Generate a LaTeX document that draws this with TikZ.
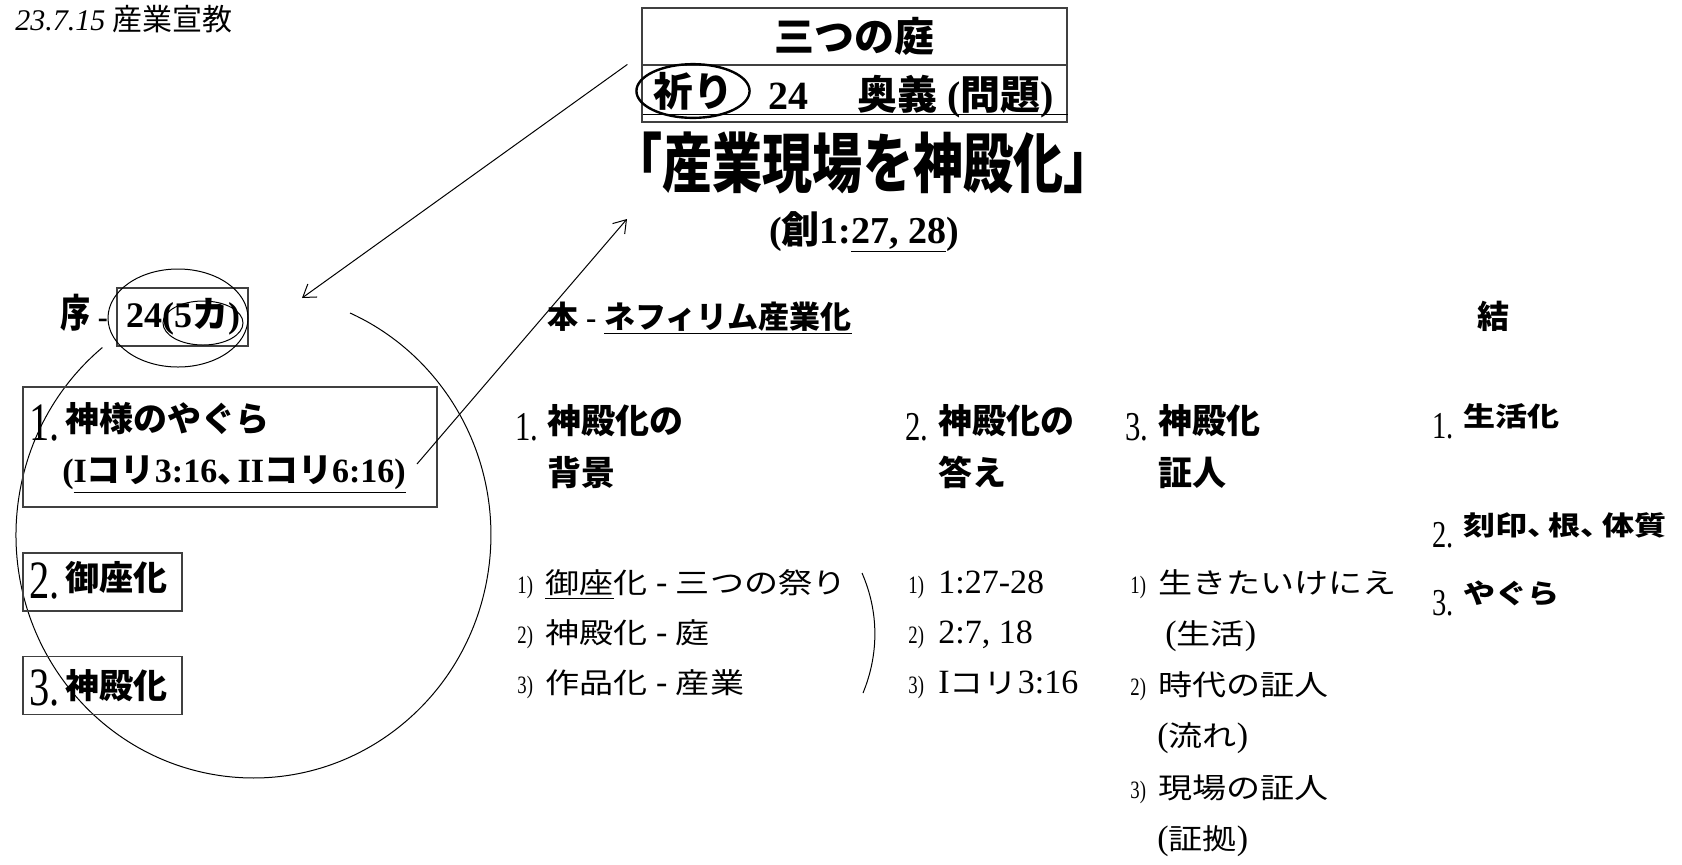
\documentclass[tikz,border=0pt]{standalone}
\usepackage{fontspec}
\setmainfont{Liberation Serif}
\newfontfamily\jp{Noto Sans CJK JP}
\newfontfamily\jpw{Noto Sans CJK JP}[Scale=0.835,FakeStretch=1.2]
\newfontfamily\jpc{Noto Sans CJK JP}[Scale=1.3,FakeStretch=0.77]
\newfontfamily\numfont{Liberation Serif}[FakeStretch=0.75]
\newcommand\en[1]{{\rmfamily#1}}
\newcommand\tou{、\hspace{-0.4em}}
\usetikzlibrary{arrows.meta}
\usetikzlibrary{shapes.geometric}

\begin{document}
\begin{tikzpicture}[x=0.5pt,y=-0.5pt,
  every node/.style={inner sep=0pt},
  box/.style={draw=black!75,line width=0.6pt},
  num/.style={anchor=base west,font=\numfont\fontsize{#1}{#1}\selectfont},
  head/.style={anchor=base west,font=\jp\bfseries\fontsize{17pt}{20pt}\selectfont},
  rhead/.style={anchor=base west,font=\jpw\bfseries\fontsize{16pt}{18pt}\selectfont},
  item/.style={anchor=base west,font=\jpw\fontsize{17pt}{20pt}\selectfont},
  link/.style={-{Straight Barb[length=6pt,width=8pt]},line width=0.5pt}]

  \path [fill=white,use as bounding box] (0,0) rectangle (1682,864);

  % date
  \node [anchor=base west,font=\jp\fontsize{15pt}{17pt}\selectfont] (date) at (15,30) {\en{\itshape 23.7.15} 産業宣教};

  % title block
  \node [box,minimum width=212.5pt,minimum height=28.5pt,font=\jp\bfseries\fontsize{20pt}{22pt}\selectfont] (niwa) at (854.5,36.5) {三つの庭};
  \node [box,minimum width=212.5pt,minimum height=28.5pt] (okugi) at (854.5,93.5) {};
  \node [draw,ellipse,line width=1.2pt,minimum width=53pt,minimum height=24pt,font=\jp\bfseries\fontsize{20pt}{22pt}\selectfont] (inori) at (693,91) {祈り};
  \node [anchor=base,font=\bfseries\fontsize{20pt}{22pt}\selectfont] (okugi24) at (788,109) {24};
  \node [anchor=base west,font=\jp\bfseries\fontsize{20pt}{22pt}\selectfont] (okugiT) at (857,109) {奥義\en{ (}問題\en{)}};
  \draw [line width=0.8pt] ([xshift=1pt,yshift=4pt]okugi.south west) -- ([yshift=4pt]okugi.south east);

  \node [font=\jpc\bfseries\fontsize{25pt}{28pt}\selectfont] (title) at (863,163) {「産業現場を神殿化」};
  \node [anchor=base,font=\jp\bfseries\fontsize{19pt}{21pt}\selectfont] (gen) at (864,243) {\en{(}創\en{1:\underline{27, 28})}};

  % jo
  \node [anchor=base west,font=\jpc\bfseries\fontsize{15pt}{17pt}\selectfont] (jo) at (60,327) {序\en{ -}};
  \node [box,minimum width=65.5pt,minimum height=29pt] (jobox) at (182.5,317) {};
  \node [anchor=base,font=\jp\bfseries\fontsize{18pt}{20pt}\selectfont] (jo24) at (183,327) {\en{24(5}カ\en{)}};
  \draw [line width=0.5pt] (178,318) ellipse [x radius=35pt,y radius=24.5pt];
  \draw [line width=0.5pt] (203,323) ellipse [x radius=20pt,y radius=11pt];
  \draw [line width=0.5pt] (102.4,347.5) arc [start angle=129.5,end angle=426,x radius=118.75pt,y radius=121.5pt];

  \node [box,minimum width=207pt,minimum height=60pt] (yagura) at (230,447) {};
  \node [num=27pt] (yaguraN) at (29,440) {1.};
  \node [head] (yaguraT) at (65,431) {神様のやぐら};
  \node [head] (yaguraR) at (62,482) {\en{(}\underline{\en{I}コリ\en{3:16}\tou\en{II}コリ\en{6:16)}}};

  \node [box,minimum width=79.5pt,minimum height=29pt] (gyoza) at (102.5,582) {};
  \node [num=27pt] (gyozaN) at (29,598) {2.};
  \node [head] (gyozaT) at (65,590) {御座化};

  \node [box,minimum width=79.5pt,minimum height=29pt] (shinden) at (102.5,685.5) {};
  \node [num=27pt] (shindenN) at (29,705) {3.};
  \node [head] (shindenT) at (65,698) {神殿化};

  % hon
  \node [anchor=base west,font=\jp\bfseries\fontsize{15.5pt}{17pt}\selectfont] (hon) at (547,328) {本\en{ - }\underline{ネフィリム産業化}};

  \node [num=20.5pt] (haikeiN) at (515,440) {1.};
  \node [head] (haikei1) at (547,433) {神殿化の};
  \node [head] (haikei2) at (547,485) {背景};
  \node [num=12.5pt] (hk1N) at (517,593) {1)};
  \node [item] (hk1) at (545,593) {\underline{御座}化\en{ - }三つの祭り};
  \node [num=12.5pt] (hk2N) at (517,643) {2)};
  \node [item] (hk2) at (545,643) {神殿化\en{ - }庭};
  \node [num=12.5pt] (hk3N) at (517,693) {3)};
  \node [item] (hk3) at (545,693) {作品化\en{ - }産業};
  \draw [line width=0.5pt] (862,573) .. controls (879,612) and (879,654) .. (863,693);

  \node [num=20.5pt] (kotaeN) at (905,440) {2.};
  \node [head] (kotae1) at (938,433) {神殿化の};
  \node [head] (kotae2) at (938,485) {答え};
  \node [num=12.5pt] (kt1N) at (908,593) {1)};
  \node [item] (kt1) at (938,593) {\en{1:27-28}};
  \node [num=12.5pt] (kt2N) at (908,643) {2)};
  \node [item] (kt2) at (938,643) {\en{2:7, 18}};
  \node [num=12.5pt] (kt3N) at (908,693) {3)};
  \node [item] (kt3) at (938,693) {\en{I}コリ\en{3:16}};

  \node [num=20.5pt] (shoninN) at (1125,440) {3.};
  \node [head] (shonin1) at (1158,433) {神殿化};
  \node [head] (shonin2) at (1158,485) {証人};
  \node [num=12.5pt] (sn1N) at (1130,593) {1)};
  \node [item] (sn1) at (1158,593) {生きたいけにえ};
  \node [item] (sn1b) at (1165,644) {\en{(}生活\en{)}};
  \node [num=12.5pt] (sn2N) at (1130,695) {2)};
  \node [item] (sn2) at (1158,695) {時代の証人};
  \node [item] (sn2b) at (1157,746) {\en{(}流れ\en{)}};
  \node [num=12.5pt] (sn3N) at (1130,798) {3)};
  \node [item] (sn3) at (1158,798) {現場の証人};
  \node [item] (sn3b) at (1157,849) {\en{(}証拠\en{)}};

  % ketsu
  \node [anchor=base west,font=\jp\bfseries\fontsize{16pt}{18pt}\selectfont] (ketsu) at (1477,328) {結};
  \node [num=19pt] (k1N) at (1432,438) {1.};
  \node [rhead] (k1) at (1463,426) {生活化};
  \node [num=19pt] (k2N) at (1432,547) {2.};
  \node [rhead] (k2) at (1463,535) {刻印\tou 根\tou 体質};
  \node [num=19pt] (k3N) at (1432,615) {3.};
  \node [rhead] (k3) at (1463,603) {やぐら};

  % arrows
  \coordinate (a1s) at ([xshift=-7pt]okugi.north west);
  \coordinate (a1e) at (302,298);
  \coordinate (a2s) at (417,464);
  \coordinate (a2e) at (627,219);
  \draw [link] (a1s) -- (a1e);
  \draw [link] (a2s) -- (a2e);

\end{tikzpicture}
\end{document}
